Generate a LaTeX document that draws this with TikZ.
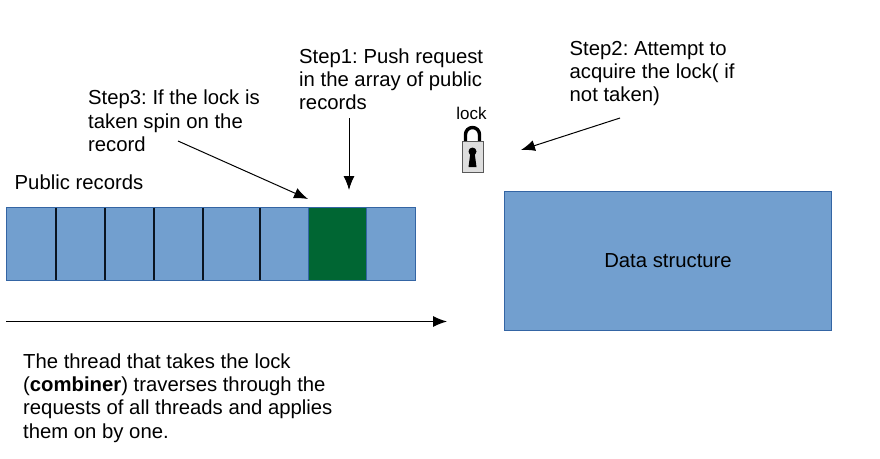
\documentclass[tikz,border=0pt]{standalone}
\usepackage{fontspec}
\setmainfont{Liberation Sans}
\usetikzlibrary{arrows.meta}
\definecolor{cellblue}{HTML}{729FCF}
\definecolor{celledge}{HTML}{3465A4}
\definecolor{cellgreen}{HTML}{006633}
\tikzset{
	note/.style={anchor=north west, align=left, inner sep=0pt, font=\fontsize{20.3}{23.2}\selectfont\frenchspacing},
	cell/.style={draw=celledge, fill=cellblue, line width=1pt, anchor=north west, inner sep=0pt, outer sep=0pt, minimum height=72.5pt},
	divider/.style={line width=1.6pt, draw=black!80!celledge},
	pointer/.style={line width=1pt, -{Latex[length=14pt,width=11pt]}}
}

\begin{document}
\begin{tikzpicture}[x=1pt,y=-1pt]
		%%%%% START %%%%%
		\useasboundingbox (0, 0) rectangle (880, 458);
		
		\node[cell, minimum width=408.5pt] (records) at (6.5, 207.5) {};
		\node[cell, minimum width=58pt, fill=cellgreen] (taken) at (308.5, 207.5) {};
		\node[cell, minimum width=327pt, minimum height=139pt, font=\fontsize{20.3}{23.2}\selectfont] (structure) at (504.5, 191) {Data structure};
		
		\draw[divider] (55.7, 207.5) -- (55.7, 280);
		\draw[divider] (104.7, 207.5) -- (104.7, 280);
		\draw[divider] (153.7, 207.5) -- (153.7, 280);
		\draw[divider] (202.7, 207.5) -- (202.7, 280);
		\draw[divider] (260, 207.5) -- (260, 280);
		
		\node[note] (title) at (14.5, 174.5) {Public records};
		\node[note] (step3) at (88, 90) {Step3: If the lock is\\taken spin on the\\record};
		\node[note] (step1) at (299, 48.5) {Step1: Push request\\in the array of public\\records};
		\node[note] (step2) at (569.5, 41) {Step2: Attempt to\\acquire the lock( if\\not taken)};
		\node[note] (combiner) at (23, 353.5) {The thread that takes the lock\\(\textbf{combiner}) traverses through the\\requests of all threads and applies\\them on by one.};
		
		% lock
		\node[anchor=base, inner sep=0pt, font=\fontsize{17}{19}\selectfont] (lock) at (471.5, 119) {lock};
		\draw[line width=3.4pt] (465.5, 142) -- (465.5, 134.5) arc (180:360:7) -- (479.5, 142);
		\draw[fill=black!13, draw=black!65, line width=1pt] (462, 141) rectangle (483, 172.5);
		\fill (472.5, 151.5) circle (4);
		\fill (470.5, 152) -- (474.5, 152) -- (476.5, 167) -- (468.5, 167) -- cycle;
		
		% arrows
		\coordinate (step3end) at (308, 199);
		\coordinate (step3start) at (178, 141);
		\coordinate (step1end) at (349, 190);
		\coordinate (step1start) at (349, 118);
		\coordinate (step2end) at (521, 150);
		\coordinate (step2start) at (620, 118);
		\coordinate (sweepstart) at (6, 321.5);
		\coordinate (sweepend) at (447, 321.5);
		\draw[pointer] (step3start) -- (step3end);
		\draw[pointer] (step1start) -- (step1end);
		\draw[pointer] (step2start) -- (step2end);
		\draw[pointer] (sweepstart) -- (sweepend);
		
		%%%%% END %%%%%
	\end{tikzpicture}
\end{document}
